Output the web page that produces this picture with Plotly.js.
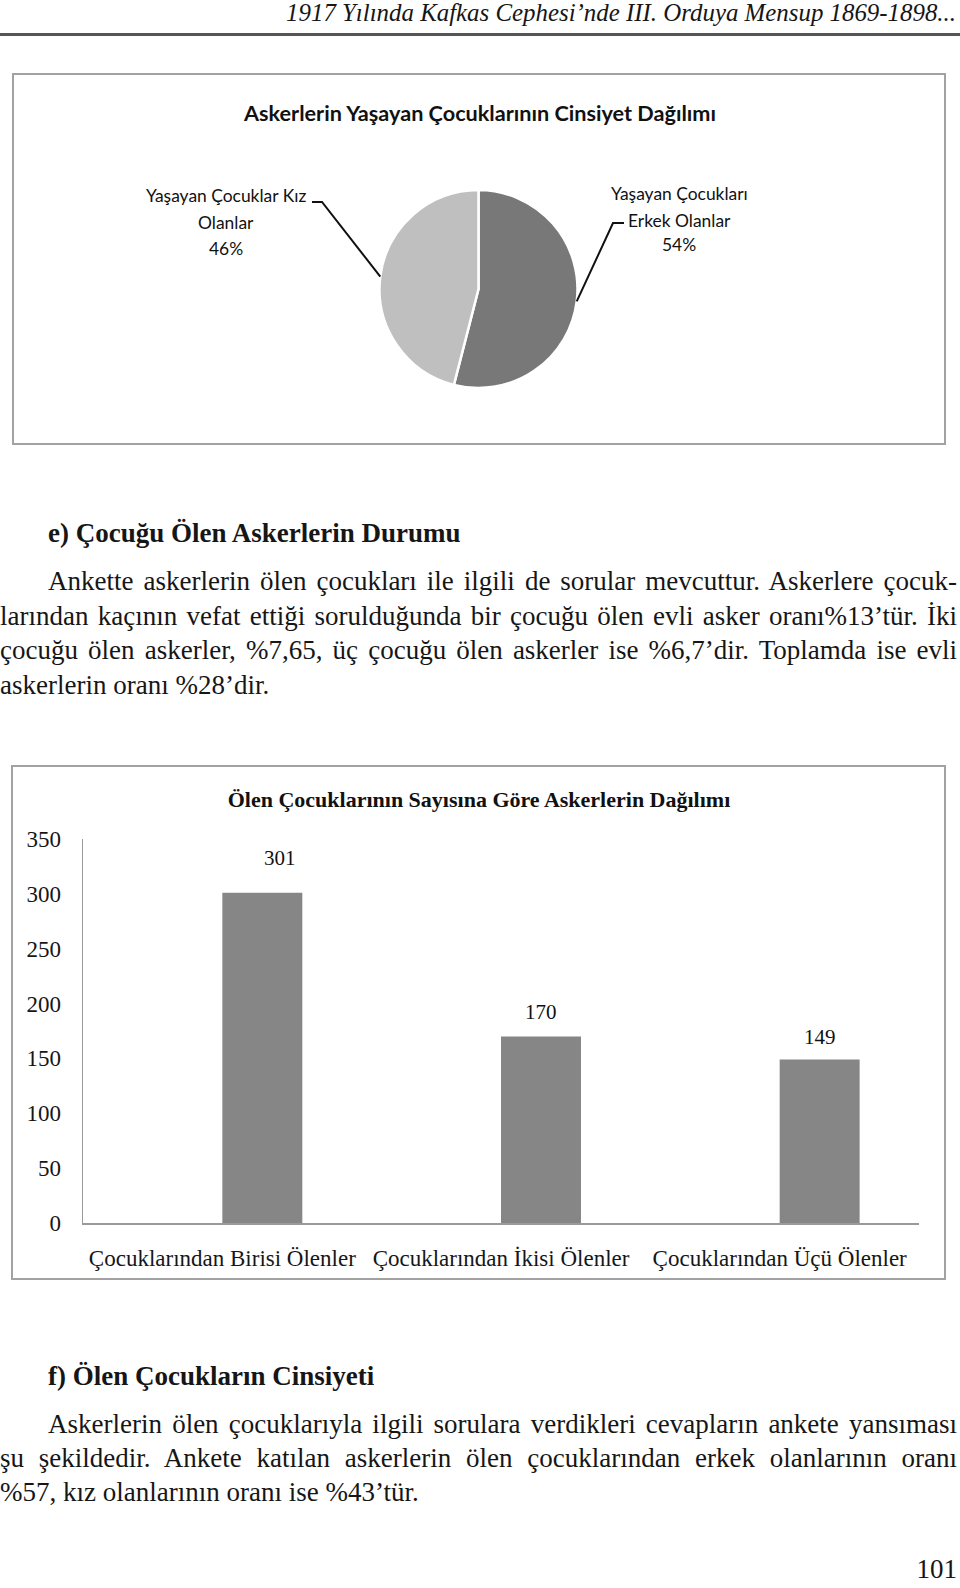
<!DOCTYPE html>
<html><head><meta charset="utf-8">
<script src="https://cdn.plot.ly/plotly-3.0.1.min.js"></script>
<style>
html,body{margin:0;padding:0;background:#fff;}
#page{position:relative;width:960px;height:1588px;overflow:hidden;font-family:"Liberation Serif","DejaVu Serif",serif;color:#161616;}
.abs{position:absolute;}
.line{position:absolute;font-size:27px;line-height:35px;height:35px;overflow:hidden;white-space:nowrap;}
.just{text-align:justify;text-align-last:justify;white-space:normal;}
.box{position:absolute;border:2px solid #a2a2a2;box-sizing:border-box;pointer-events:none;}
</style></head>
<body><div id="page">
<div id="hdr" class="abs" style="right:4px;top:0;line-height:26px;height:28px;font-style:italic;white-space:nowrap;">1917 Yılında Kafkas Cephesi’nde III. Orduya Mensup 1869-1898...</div>
<div class="abs" style="left:0;top:33px;width:960px;height:3px;background:#555;"></div>

<div id="pie" class="abs" style="left:13px;top:74px;width:933px;height:370px;"></div>
<div class="box" style="left:12px;top:73px;width:934px;height:372px;"></div>

<div class="line" style="top:516px;left:48px;font-weight:bold;">e) Çocuğu Ölen Askerlerin Durumu</div>
<div class="line just" style="top:564px;left:48px;width:909px;">Ankette askerlerin ölen çocukları ile ilgili de sorular mevcuttur. Askerlere çocuk-</div>
<div class="line just" style="top:599px;left:0;width:957px;">larından kaçının vefat ettiği sorulduğunda bir çocuğu ölen evli asker oranı%13’tür. İki</div>
<div class="line just" style="top:633px;left:0;width:957px;">çocuğu ölen askerler, %7,65, üç çocuğu ölen askerler ise %6,7’dir. Toplamda ise evli</div>
<div class="line" style="top:668px;left:0;">askerlerin oranı %28’dir.</div>

<div id="bar" class="abs" style="left:12px;top:766px;width:933px;height:513px;"></div>
<div class="box" style="left:11px;top:765px;width:935px;height:515px;"></div>

<div class="line" style="top:1359px;left:48px;font-weight:bold;">f) Ölen Çocukların Cinsiyeti</div>
<div class="line just" style="top:1407px;left:48px;width:909px;">Askerlerin ölen çocuklarıyla ilgili sorulara verdikleri cevapların ankete yansıması</div>
<div class="line just" style="top:1441px;left:0;width:957px;">şu şekildedir. Ankete katılan askerlerin ölen çocuklarından erkek olanlarının oranı</div>
<div class="line" style="top:1475px;left:0;">%57, kız olanlarının oranı ise %43’tür.</div>
<div class="line" style="top:1552px;right:3px;">101</div>
</div>
<script>
// ---------- data ----------
const pieTitle = 'Askerlerin Yaşayan Çocuklarının Cinsiyet Dağılımı';
const pieLabels = ['Yaşayan Çocukları Erkek Olanlar', 'Yaşayan Çocuklar Kız Olanlar'];
const pieLabelLines = [['Yaşayan Çocukları', 'Erkek Olanlar'], ['Yaşayan Çocuklar Kız', 'Olanlar']];
const pieValues = [54, 46];

const barTitle = 'Ölen Çocuklarının Sayısına Göre Askerlerin Dağılımı';
const barCategories = ['Çocuklarından Birisi Ölenler', 'Çocuklarından İkisi Ölenler', 'Çocuklarından Üçü Ölenler'];
const barValues = [301, 170, 149];
const yTickValues = [0, 50, 100, 150, 200, 250, 300, 350];

// ---------- helpers ----------
const cv = document.createElement('canvas').getContext('2d');
function textW(t, font) { cv.font = font; return cv.measureText(t).width; }
function hasFont(f) {
  const s = 'abcdefghijklmnopqrstuvwxyz0123456789';
  return textW(s, '100px "' + f + '", monospace') !== textW(s, '100px monospace');
}
function fitSize(t, family, weight, style, target) {
  return 100 * target / textW(t, style + ' ' + weight + ' 100px ' + family);
}

// header fit
const hdr = document.getElementById('hdr');
hdr.style.fontSize = fitSize(hdr.textContent, '"Liberation Serif"', 'normal', 'italic', 670).toFixed(2) + 'px';

// ---------- pie ----------
const SANS = hasFont('Liberation Sans Narrow') ? 'Liberation Sans Narrow' : 'Lato';
const PB = {left: 13, top: 74, w: 933, h: 370};
const px = x => (x - PB.left) / PB.w;
const py = y => 1 - (y - PB.top) / PB.h;
const pcx = 478.5, pcy = 289, pr = 99;
const pieColors = ['#787878', '#bfbfbf'];

const total = pieValues.reduce((a, b) => a + b, 0);
let acc = 0;
const mids = pieValues.map(v => { const m = (acc + v / 2) / total * 2 * Math.PI; acc += v; return m; });
const bends = [[[613, 223], [624, 223]], [[322, 202], [312, 202]]];
const labelPos = [{x: 679, ys: [193, 220, 245]}, {x: 226, ys: [195, 222, 248]}];

const titleSize = fitSize(pieTitle, SANS, 'bold', 'normal', 473);
const lblSize = (fitSize('Yaşayan Çocuklar Kız', SANS, 'normal', 'normal', 163) +
                 fitSize('Yaşayan Çocukları', SANS, 'normal', 'normal', 135)) / 2;

const pieShapes = mids.map((m, i) => {
  const ex = pcx + pr * Math.sin(m), ey = pcy - pr * Math.cos(m);
  let d = 'M ' + px(ex) + ',' + py(ey);
  bends[i].forEach(b => { d += ' L ' + px(b[0]) + ',' + py(b[1]); });
  return {type: 'path', xref: 'paper', yref: 'paper', path: d, line: {color: '#111', width: 2}};
});
const pieAnn = [];
pieValues.forEach((v, i) => {
  const lines = pieLabelLines[i].concat([Math.round(v / total * 100) + '%']);
  lines.forEach((t, k) => pieAnn.push({
    xref: 'paper', yref: 'paper', x: px(labelPos[i].x), y: py(labelPos[i].ys[k]),
    xanchor: 'center', yanchor: 'middle', showarrow: false, text: t,
    font: {family: SANS, size: lblSize, color: '#111'}
  }));
});

Plotly.newPlot('pie', [{
  type: 'pie', labels: pieLabels, values: pieValues, sort: false, direction: 'clockwise', rotation: 0,
  marker: {colors: pieColors, line: {color: '#ffffff', width: 2.5}},
  textinfo: 'none', hoverinfo: 'none', showlegend: false,
  domain: {x: [px(pcx - pr), px(pcx + pr)], y: [py(pcy + pr), py(pcy - pr)]}
}], {
  width: PB.w, height: PB.h, margin: {l: 0, r: 0, t: 0, b: 0},
  paper_bgcolor: '#fff', plot_bgcolor: '#fff', showlegend: false,
  title: {text: '<b>' + pieTitle + '</b>', x: px(480), y: py(113), xanchor: 'center', yanchor: 'middle',
          font: {family: SANS, size: titleSize, color: '#111'}},
  shapes: pieShapes, annotations: pieAnn
}, {staticPlot: true, displayModeBar: false});

// ---------- bar ----------
const BB = {left: 12, top: 766, w: 933, h: 513};
const BAR_W = 0.287;
const labelShift = [[18, 35], [0, 24], [0, 23]];
const SERIF = 'Liberation Serif';
const barAnn = barValues.map((v, i) => ({
  xref: 'x', yref: 'y', x: i + BAR_W / 2, y: v, xshift: labelShift[i][0], yshift: labelShift[i][1],
  xanchor: 'center', yanchor: 'middle', showarrow: false, text: String(v),
  font: {family: SERIF, size: 21, color: '#111'}
}));

Plotly.newPlot('bar', [{
  type: 'bar', x: barCategories, y: barValues, width: BAR_W, offset: 0,
  marker: {color: '#868686'}, hoverinfo: 'none', showlegend: false
}], {
  width: BB.w, height: BB.h,
  margin: {l: 83 - BB.left, r: BB.left + BB.w - 919, t: 838.5 - BB.top, b: BB.top + BB.h - 1223},
  paper_bgcolor: '#fff', plot_bgcolor: '#fff', showlegend: false,
  title: {text: '<b>' + barTitle + '</b>', x: (479 - BB.left) / BB.w, y: 1 - (799 - BB.top) / BB.h,
          xanchor: 'center', yanchor: 'middle', font: {family: SERIF, size: 22, color: '#111'}},
  xaxis: {type: 'category', range: [-0.5, 2.5], showline: true, linecolor: '#9a9a9a', linewidth: 1.5,
          ticks: '', showgrid: false, zeroline: false, ticklabelstandoff: 14,
          tickfont: {family: SERIF, size: 23, color: '#161616'}},
  yaxis: {range: [0, 350], tickvals: yTickValues, showline: true, linecolor: '#9a9a9a', linewidth: 1.5,
          ticks: '', showgrid: false, zeroline: false, ticklabelstandoff: 16,
          tickfont: {family: SERIF, size: 23, color: '#161616'}},
  annotations: barAnn
}, {staticPlot: true, displayModeBar: false});
</script>
</body></html>
